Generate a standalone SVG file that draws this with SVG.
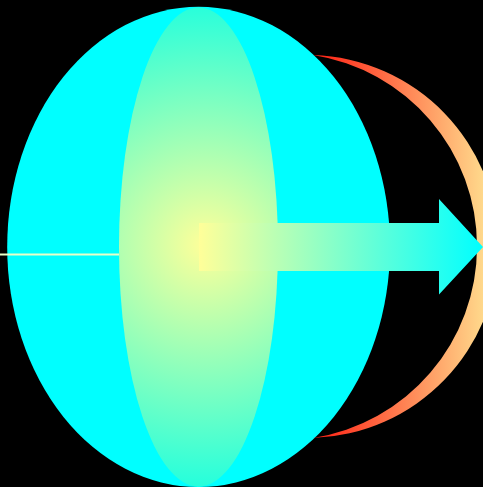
<svg xmlns="http://www.w3.org/2000/svg" width="483" height="487" viewBox="0 0 483 487">
  <defs>
    <radialGradient id="coreGrad" gradientUnits="userSpaceOnUse" cx="205" cy="245" r="245">
      <stop offset="0" stop-color="#ffff99"/>
      <stop offset="1" stop-color="#22ffdd"/>
    </radialGradient>
    <linearGradient id="arcGrad" gradientUnits="userSpaceOnUse" x1="313" y1="0" x2="490" y2="0">
      <stop offset="0" stop-color="#ff1e12"/>
      <stop offset="1" stop-color="#ffe090"/>
    </linearGradient>
    <linearGradient id="arrowGrad" gradientUnits="userSpaceOnUse" x1="199" y1="0" x2="483" y2="0">
      <stop offset="0" stop-color="#ffff99"/>
      <stop offset="1" stop-color="#00ffff"/>
    </linearGradient>
  </defs>
  <style>
    .bg { fill: #000000; }
    .outer { fill: #00ffff; }
    .core { fill: url(#coreGrad); }
    .arc { fill: url(#arcGrad); }
    .arrow { fill: url(#arrowGrad); }
    .axis { stroke: #e8ffc8; stroke-width: 2; fill: none; }
  </style>
  <rect class="bg" x="0" y="0" width="483" height="487"/>
  <g id="sphere">
    <ellipse class="outer" cx="198.6" cy="246.9" rx="191.4" ry="240.1"/>
  </g>
  <g id="core">
    <ellipse class="core" cx="198.5" cy="247" rx="79.5" ry="239.5"/>
  </g>
  <g id="crescent">
    <path class="arc" d="M313,55 A191.6,191.6 0 0 1 313,438 A193.8,193.8 0 0 0 313,55 Z"/>
  </g>
  <g id="connectors">
    <line class="axis" x1="0" y1="254.5" x2="119" y2="254.5"/>
    <path id="arrow" class="arrow" d="M199,223 L439,223 L439,199 L483,247 L439,294.5 L439,271 L199,271 Z"/>
  </g>
</svg>
